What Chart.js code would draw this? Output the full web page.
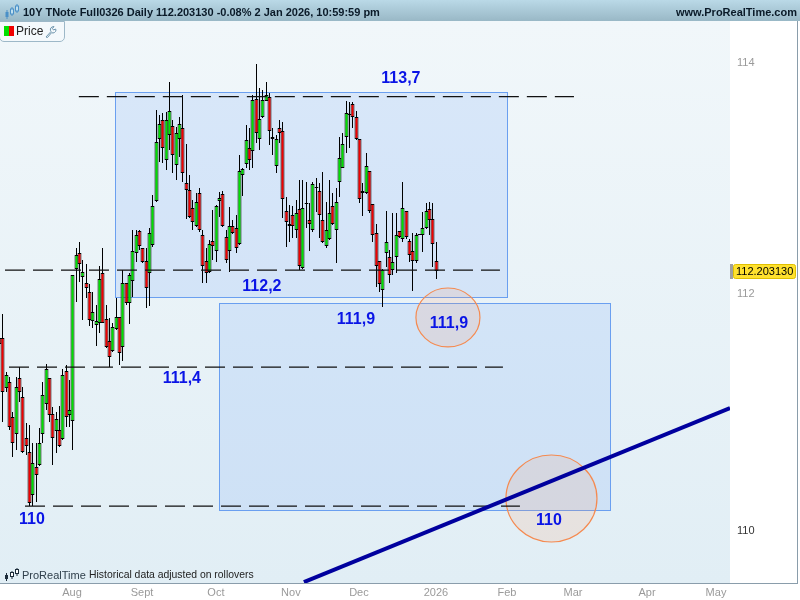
<!DOCTYPE html>
<html>
<head>
<meta charset="utf-8">
<title>10Y TNote Full0326</title>
<script src="https://cdn.jsdelivr.net/npm/chart.js@4/dist/chart.umd.min.js"></script>
<style>
  html, body { margin: 0; padding: 0; background: #fff; }
  #wrap { position: relative; width: 800px; height: 600px; overflow: hidden; font-family: "Liberation Sans", Arial, sans-serif; }
  canvas { position: absolute; left: 0; top: 0; }
  #head { position: absolute; left: 0; top: 0; width: 800px; height: 21px; background: linear-gradient(#bad9e7, #99b8c6); color: #0a1a28; font-size: 11px; font-weight: bold; }
  #head .title { position: absolute; left: 23px; top: 0; line-height: 24px; white-space: nowrap; }
  #head .site { position: absolute; right: 3px; top: 0; line-height: 24px; white-space: nowrap; }
  #head svg { position: absolute; left: 4px; top: 4px; }
  #frame { position: absolute; left: 0; top: 21px; width: 797px; height: 562px; border-right: 1px solid #8a9dab; border-bottom: 1px solid #8a9dab; pointer-events: none; }
  #price { position: absolute; left: -1px; top: 21px; width: 64px; height: 19px; border: 1px solid #9db8c8; border-radius: 0 0 5px 5px; background: #f4f9fc; font-size: 12px; color: #222; }
  #price .sw { position: absolute; left: 4px; top: 4px; width: 5px; height: 10px; background: #00e000; }
  #price .sw2 { position: absolute; left: 9px; top: 4px; width: 5px; height: 10px; background: #f00000; }
  #price .t { position: absolute; left: 16px; top: 2px; }
  #price svg { position: absolute; left: 45px; top: 3px; }
  #foot { position: absolute; left: 4px; top: 566px; height: 16px; white-space: nowrap; color: #333; }
  #foot svg { position: absolute; left: 0; top: 1px; }
  #foot .pr { position: absolute; left: 18px; top: 3px; font-size: 11px; color: #30404c; }
  #foot .hd { position: absolute; left: 85px; top: 3px; font-size: 10.4px; color: #222; }
</style>
</head>
<body>
<div id="wrap">
  <canvas id="priceChart" width="800" height="600"></canvas>
  <div id="head">
    <svg width="16" height="16" viewBox="0 0 16 16"><path d="M3 6v9M8 3v9M13 0v9" stroke="#4a90c8" stroke-width="1"/><rect x="1.5" y="8" width="3" height="5" fill="#4a90c8"/><rect x="6.5" y="5" width="3" height="5" fill="#bfe0f0" stroke="#4a90c8"/><rect x="11.5" y="2" width="3" height="5" fill="#bfe0f0" stroke="#4a90c8"/></svg>
    <span class="title">10Y TNote Full0326 Daily 112.203130 -0.08% 2 Jan 2026, 10:59:59 pm</span>
    <span class="site">www.ProRealTime.com</span>
  </div>
  <div id="frame"></div>
  <div id="price">
    <span class="sw"></span><span class="sw2"></span><span class="t">Price</span>
    <svg width="13" height="13" viewBox="0 0 13 13"><path d="M1 12l5-5.5a3 3 0 0 1 1-4.5l2-.5-1.5 2 1 1.5 2-1 .5 1a3.2 3.2 0 0 1-4.5 2.7L2.5 12.5z" fill="none" stroke="#6d94ad" stroke-width="1"/></svg>
  </div>
  <div id="foot">
    <svg width="16" height="14" viewBox="0 0 16 14"><path d="M2.5 6v8M8 4v8M13 1v8" stroke="#1c2c3a" stroke-width="1"/><rect x="1" y="8" width="3" height="4" fill="#1c2c3a"/><rect x="6.5" y="5.5" width="3" height="4" fill="#fff" stroke="#1c2c3a"/><rect x="11.5" y="2.5" width="3" height="4" fill="#fff" stroke="#1c2c3a"/></svg>
    <span class="pr">ProRealTime</span>
    <span class="hd">Historical data adjusted on rollovers</span>
  </div>
</div>
<script>
// daily candles
const highs = [
  111.90,111.833,111.342,111.294,111.002,111.294,111.379,111.214,110.904,110.889,
  110.735,110.735,110.862,111.251,111.404,111.286,111.044,111.002,111.05,111.362,
  111.398,111.271,112.166,112.395,112.446,112.294,112.258,112.086,112.018,111.909,
  112.243,112.395,111.909,111.796,111.753,111.967,111.81,112.209,112.095,112.181,
  112.552,112.552,112.552,112.395,112.395,112.567,112.853,113.587,113.544,113.559,
  113.573,113.828,113.501,113.443,113.529,113.718,113.293,113.026,112.81,112.868,
  112.911,112.552,112.395,112.466,112.724,112.767,112.882,112.888,112.552,112.752,
  112.638,112.681,113.198,113.083,113.457,113.429,113.718,113.985,113.776,113.761,
  113.828,113.732,113.429,113.371,113.501,113.486,112.838,112.767,112.758,112.81,
  112.982,112.982,112.968,112.782,112.968,112.997,112.954,113.054,112.795,112.982,
  112.868,112.911,113.356,113.386,113.668,113.659,113.659,113.581,113.334,112.954,
  113.213,113.063,112.773,112.6,112.283,112.215,112.715,112.38,112.696,112.696,
  112.541,112.968,112.713,112.472,112.524,112.524,112.506,112.709,112.782,112.795,
  112.782,112.446
];
const lows = [
  111.58,110.917,111.172,110.847,110.621,110.678,111.087,110.65,110.636,110.206,
  110.206,110.242,110.545,110.735,111.016,110.917,110.551,110.65,110.706,110.763,
  110.875,110.875,110.678,111.938,112.109,111.782,111.967,111.73,111.711,111.56,
  111.668,111.753,111.54,111.379,111.512,111.696,111.398,111.435,111.909,111.747,
  111.98,112.28,112.38,112.266,111.881,111.901,112.408,112.79,113.14,113.126,
  113.069,113.241,113.04,112.982,113.183,112.968,112.644,112.653,112.552,112.58,
  112.537,112.095,112.095,112.181,112.294,112.28,112.666,112.58,112.266,112.189,
  112.518,112.352,112.423,112.844,113.083,113.069,113.083,113.299,113.241,113.515,
  113.668,113.284,113.198,113.04,113.299,112.653,112.408,112.451,112.48,112.48,
  112.209,112.215,112.567,112.374,112.537,112.709,112.48,112.438,112.395,112.466,
  112.595,112.271,112.833,113.083,113.213,113.256,113.429,113.327,112.787,112.672,
  112.862,112.696,112.451,112.064,112.018,111.895,112.237,112.095,112.166,112.181,
  112.48,112.451,112.472,112.28,112.032,112.271,112.506,112.365,112.558,112.509,
  112.237,112.129
];
const opens = [
  111.63,111.626,111.20,111.251,110.955,110.811,111.286,111.123,110.777,110.664,
  110.296,110.532,110.551,110.811,111.065,111.286,110.98,110.841,110.845,110.769,
  111.345,110.972,110.921,112.22,112.352,112.146,112.095,112.018,111.771,111.737,
  111.753,112.181,111.788,111.6,111.515,111.702,111.81,111.549,112.095,111.924,
  112.112,112.352,112.541,112.395,112.283,112.181,112.423,112.804,113.334,113.498,
  113.152,113.369,113.446,113.114,113.334,113.429,112.954,112.894,112.739,112.584,
  112.868,112.506,112.283,112.189,112.455,112.369,112.804,112.86,112.489,112.369,
  112.584,112.567,112.429,113.023,113.118,113.256,113.23,113.68,113.334,113.524,
  113.668,113.697,113.334,113.101,113.429,113.403,112.713,112.601,112.678,112.549,
  112.73,112.223,112.773,112.635,112.549,112.911,112.885,112.635,112.412,112.472,
  112.756,112.549,112.962,113.083,113.351,113.544,113.637,113.524,113.334,112.868,
  112.868,113.057,112.773,112.524,112.283,112.035,112.352,112.318,112.206,112.318,
  112.541,112.472,112.713,112.455,112.369,112.283,112.506,112.506,112.567,112.73,
  112.644,112.283
];
const closes = [
  111.58,111.172,111.314,110.875,110.735,111.214,111.172,110.664,110.714,110.228,
  110.571,110.464,110.735,111.141,111.362,110.972,110.777,110.938,110.714,111.314,
  110.955,111.014,112.163,112.335,112.258,112.192,112.052,111.782,111.847,111.771,
  112.129,111.753,111.549,111.469,111.719,111.81,111.498,112.095,111.924,112.163,
  112.369,112.506,112.412,112.275,112.052,112.523,112.758,113.307,113.464,113.256,
  113.498,113.576,113.195,113.386,113.464,113.04,112.894,112.661,112.618,112.79,
  112.549,112.24,112.181,112.429,112.412,112.756,112.825,112.584,112.297,112.584,
  112.524,112.395,113.057,113.075,113.325,113.152,113.671,113.386,113.507,113.671,
  113.714,113.403,113.351,113.334,113.386,112.816,112.618,112.584,112.584,112.696,
  112.24,112.739,112.773,112.601,112.945,112.911,112.678,112.446,112.549,112.696,
  112.601,112.79,113.169,113.291,113.559,113.544,113.524,113.334,112.816,112.885,
  113.101,112.713,112.506,112.24,112.086,112.206,112.446,112.163,112.275,112.506,
  112.489,112.739,112.489,112.335,112.283,112.506,112.506,112.567,112.713,112.635,
  112.429,112.203
];

const monthTicks = [21.75, 42.75, 64.9, 87.4, 107.8, 130.9, 152.2, 172, 194.2, 214.9];
const monthLabels = ['Aug', 'Sept', 'Oct', 'Nov', 'Dec', '2026', 'Feb', 'Mar', 'Apr', 'May'];
const priceTicks = [110, 112, 114];
const lastPrice = 112.20313;
const lastPriceLabel = '112.203130';

// [start, end, level] for each dashed line
const levelStart = [23.8, 1.65, 2.85, 7.65];
const levelEnd = [172.3, 150.1, 151, 156.1];
const levelValue = [113.704, 112.209, 111.381, 110.206];

const trendX = [91.3, 219.1];
const trendY = [109.568, 111.033];

const boxX = [[34.64, 152.2], [65.84, 183.1]];
const boxY = [[113.744, 111.978], [111.926, 110.172]];
const circleX = [[124.9, 144.1], [151.9, 179.2]];
const circleY = [[112.055, 111.552], [110.636, 109.904]];

const noteText = ['113,7', '112,2', '111,9', '111,9', '111,4', '110', '110'];
const noteX = [120.4, 78.7, 106.9, 134.8, 54.7, 9.75, 164.8];
const noteY = [113.857, 112.063, 111.782, 111.748, 111.28, 110.088, 110.08];

const GREEN = '#00e000', RED = '#f00000';

const days = highs.map((_, i) => i);
const wickData = days.map(i => ({ x: i, y: [lows[i], highs[i]] }));
const bodyData = days.map(i => ({ x: i, y: [opens[i], closes[i]] }));
const bodyColors = days.map(i => closes[i] > opens[i] ? GREEN : closes[i] < opens[i] ? RED : '#000');

const levelSets = levelValue.map((v, k) => ({
  type: 'line',
  data: [{ x: levelStart[k], y: v }, { x: levelEnd[k], y: v }],
  borderColor: '#111',
  borderWidth: 1.3,
  borderDash: [20, 8],
  pointRadius: 0,
  order: 3
}));

// background, boxes and circles sit under the candles
const drawings = {
  id: 'drawings',
  beforeDraw(chart) {
    const { ctx, chartArea: a } = chart;
    const g = ctx.createLinearGradient(0, a.top, 0, a.bottom);
    g.addColorStop(0, '#f1f7fa');
    g.addColorStop(1, '#e1eef5');
    ctx.save();
    ctx.fillStyle = g;
    ctx.fillRect(a.left, a.top, a.width, a.height);
    ctx.restore();
  },
  beforeDatasetsDraw(chart) {
    const { ctx, scales: { x, y } } = chart;
    ctx.save();
    boxX.forEach((bx, k) => {
      const l = Math.round(x.getPixelForValue(bx[0])) + 0.5;
      const r = Math.round(x.getPixelForValue(bx[1])) + 0.5;
      const t = Math.round(y.getPixelForValue(boxY[k][0])) + 0.5;
      const b = Math.round(y.getPixelForValue(boxY[k][1])) + 0.5;
      ctx.fillStyle = 'rgba(90,150,250,0.15)';
      ctx.fillRect(l, t, r - l, b - t);
      ctx.strokeStyle = '#6a9ff0';
      ctx.lineWidth = 1;
      ctx.strokeRect(l, t, r - l, b - t);
    });
    circleX.forEach((cx, k) => {
      const l = x.getPixelForValue(cx[0]), r = x.getPixelForValue(cx[1]);
      const t = y.getPixelForValue(circleY[k][0]), b = y.getPixelForValue(circleY[k][1]);
      ctx.beginPath();
      ctx.ellipse((l + r) / 2, (t + b) / 2, (r - l) / 2, (b - t) / 2, 0, 0, Math.PI * 2);
      ctx.fillStyle = 'rgba(255,150,90,0.14)';
      ctx.fill();
      ctx.strokeStyle = '#f58a50';
      ctx.lineWidth = 1.2;
      ctx.stroke();
    });
    ctx.restore();
  },
  afterDatasetsDraw(chart) {
    const { ctx, scales: { x, y } } = chart;
    ctx.save();
    ctx.font = 'bold 16px "Liberation Sans", Arial, sans-serif';
    ctx.fillStyle = '#0a14e6';
    ctx.textAlign = 'center';
    ctx.textBaseline = 'middle';
    noteText.forEach((t, k) => ctx.fillText(t, x.getPixelForValue(noteX[k]), y.getPixelForValue(noteY[k])));

    // yellow last price tag with the grey marker on its left
    const py = Math.round(y.getPixelForValue(lastPrice));
    ctx.fillStyle = '#a0a0a0';
    ctx.fillRect(730, py - 7, 3, 15);
    ctx.beginPath();
    ctx.roundRect(733.5, py - 6.5, 62, 14, 2);
    ctx.fillStyle = '#ffe12e';
    ctx.fill();
    ctx.strokeStyle = '#e0c000';
    ctx.lineWidth = 1;
    ctx.stroke();
    ctx.font = '11px "Liberation Sans", Arial, sans-serif';
    ctx.fillStyle = '#000';
    ctx.textAlign = 'left';
    ctx.fillText(lastPriceLabel, 736, py + 1);
    ctx.restore();
  }
};

// candles land on whole pixels like in the original
const snapCandles = {
  id: 'snapCandles',
  afterDatasetsUpdate(chart) {
    chart.getSortedVisibleDatasetMetas().forEach(meta => {
      if (meta.type !== 'bar') return;
      meta.data.forEach(el => {
        el.x = Math.floor(el.x) + 0.5;
        el.y = Math.round(el.y);
        el.base = Math.round(el.base);
        el.width = el.width > 2 ? 4 : 1;
      });
    });
  }
};

new Chart(document.getElementById('priceChart'), {
  data: {
    datasets: [
      { type: 'line', data: trendX.map((v, k) => ({ x: v, y: trendY[k] })), borderColor: '#00009e', borderWidth: 4, pointRadius: 0, order: 2 },
      ...levelSets,
      { type: 'bar', data: bodyData, backgroundColor: bodyColors, borderColor: '#000', borderWidth: 1, borderSkipped: false, barPercentage: 1, maxBarThickness: 3, minBarLength: 1, grouped: false, order: 4 },
      { type: 'bar', data: wickData, backgroundColor: '#000', borderWidth: 0, barPercentage: 1, maxBarThickness: 1, grouped: false, order: 5 }
    ]
  },
  options: {
    responsive: false,
    animation: false,
    layout: { padding: { top: 21 } },
    plugins: { legend: { display: false }, tooltip: { enabled: false } },
    scales: {
      x: {
        type: 'linear',
        offset: false,
        min: 0.15,
        max: 219.1,
        grid: { display: false, drawTicks: false },
        border: { display: false },
        afterBuildTicks(axis) { axis.ticks = monthTicks.map(v => ({ value: v })); },
        afterFit(axis) { axis.height = 17; },
        ticks: {
          autoSkip: false,
          maxRotation: 0,
          padding: 3,
          color: '#9a9a9a',
          font: { family: '"Liberation Sans", Arial, sans-serif', size: 11 },
          callback(value, index) { return monthLabels[index]; }
        }
      },
      y: {
        type: 'logarithmic',
        position: 'right',
        min: 109.5605,
        max: 114.362,
        grid: { display: false, drawTicks: false },
        border: { display: false },
        afterBuildTicks(axis) { axis.ticks = priceTicks.map(v => ({ value: v })); },
        afterFit(axis) { axis.width = 70; },
        ticks: {
          autoSkip: false,
          padding: 7,
          color: ctx => ctx.tick && ctx.tick.value === 110 ? '#333' : '#9a9a9a',
          font: { family: '"Liberation Sans", Arial, sans-serif', size: 11 },
          callback: value => String(value)
        }
      }
    }
  },
  plugins: [drawings, snapCandles]
});
</script>
</body>
</html>
